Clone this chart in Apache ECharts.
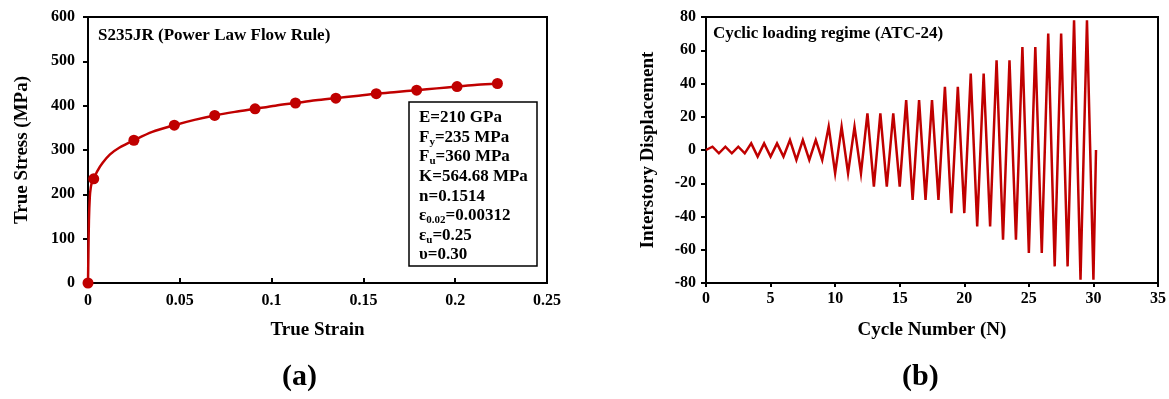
<!DOCTYPE html>
<html>
<head>
<meta charset="utf-8">
<script src="https://cdn.jsdelivr.net/npm/echarts@6/dist/echarts.min.js"></script>
<style>
html,body{margin:0;padding:0;background:#fff;}
#c{width:1169px;height:399px;}
</style>
</head>
<body>
<div id="c"></div>
<script>
// ---- Data (a): true stress-strain ----
const curveStrain = [0, 0.0002, 0.0005, 0.001, 0.0015, 0.002, 0.0025, 0.00312, 0.005, 0.008, 0.012, 0.017, 0.025, 0.035, 0.047, 0.058, 0.069, 0.08, 0.091, 0.102, 0.113, 0.124, 0.135, 0.146, 0.157, 0.168, 0.179, 0.19, 0.201, 0.212, 0.223];
const curveStress = [0, 60, 140, 195, 215, 225, 230, 235, 252, 271, 290, 305, 322, 341, 356, 368, 378, 386, 393, 400, 406, 412, 417, 422, 427, 431, 435, 439, 443, 447, 450];
const markStrain = [0, 0.00312, 0.025, 0.047, 0.069, 0.091, 0.113, 0.135, 0.157, 0.179, 0.201, 0.223];
const markStress = [0, 235, 322, 356, 378, 393, 406, 417, 427, 435, 443, 450];
const strainTicks = [0, 0.05, 0.1, 0.15, 0.2, 0.25];
const stressTicks = [0, 100, 200, 300, 400, 500, 600];

// ---- Data (b): cyclic loading regime ----
const cycleN = [0, 0.5, 1, 1.5, 2, 2.5, 3, 3.5, 4, 4.5, 5, 5.5, 6, 6.5, 7, 7.5, 8, 8.5, 9,
  9.5, 10, 10.5, 11, 11.5, 12, 12.5, 13, 13.5, 14, 14.5, 15, 15.5, 16, 16.5, 17, 17.5, 18,
  18.5, 19, 19.5, 20, 20.5, 21, 21.5, 22, 22.5, 23, 23.5, 24, 24.5, 25, 25.5, 26,
  26.5, 27, 27.5, 28, 28.5, 29, 29.5, 30, 30.2];
const displacement = [0, 2, -2, 2, -2, 2, -2, 4, -4, 4, -4, 4, -4, 6, -6, 6, -6, 6, -6,
  14, -14, 14, -14, 14, -14, 22, -22, 22, -22, 22, -22, 30, -30, 30, -30, 30, -30,
  38, -38, 38, -38, 46, -46, 46, -46, 54, -54, 54, -54, 62, -62, 62, -62,
  70, -70, 70, -70, 78, -78, 78, -78, 0];
const cycleTicks = [0, 5, 10, 15, 20, 25, 30, 35];
const dispTicks = [-80, -60, -40, -20, 0, 20, 40, 60, 80];

const propLines = [
  'E=210 GPa',
  'F{sub|y}=235 MPa',
  'F{sub|u}=360 MPa',
  'K=564.68 MPa',
  'n=0.1514',
  'ε{sub|0.02}=0.00312',
  'ε{sub|u}=0.25',
  'υ=0.30'
];

const RED = '#C00000';
const FONT = '"Liberation Serif", "Times New Roman", serif';

function zip(a, b) { return a.map((v, i) => [v, b[i]]); }

const chart = echarts.init(document.getElementById('c'), null, {renderer: 'canvas'});

const axisLabelStyle = {color: '#000', fontFamily: FONT, fontWeight: 'bold', fontSize: 16};
const nameStyle = {color: '#000', fontFamily: FONT, fontWeight: 'bold', fontSize: 19};
const lineStyle = {color: '#000', width: 2};

chart.setOption({
  animation: false,
  backgroundColor: '#fff',
  grid: [
    {left: 88, right: 622, top: 17, bottom: 116, show: true, borderColor: '#000', borderWidth: 2},
    {left: 706, right: 10, top: 17, bottom: 116, show: true, borderColor: '#000', borderWidth: 2}
  ],
  xAxis: [
    {gridIndex: 0, type: 'value', min: strainTicks[0], max: strainTicks[strainTicks.length - 1], interval: 0.05,
     name: 'True Strain', nameLocation: 'middle', nameGap: 38, nameTextStyle: nameStyle,
     axisLine: {lineStyle: lineStyle}, axisTick: {inside: true, length: 5, lineStyle: lineStyle},
     axisLabel: {...axisLabelStyle, margin: 10}, splitLine: {show: false}},
    {gridIndex: 1, type: 'value', min: cycleTicks[0], max: cycleTicks[cycleTicks.length - 1], interval: 5,
     name: 'Cycle Number (N)', nameLocation: 'middle', nameGap: 38, nameTextStyle: nameStyle,
     axisLine: {onZero: false, lineStyle: lineStyle}, axisTick: {length: 4, lineStyle: lineStyle},
     axisLabel: {...axisLabelStyle, margin: 8}, splitLine: {show: false}}
  ],
  yAxis: [
    {gridIndex: 0, type: 'value', min: stressTicks[0], max: stressTicks[stressTicks.length - 1], interval: 100,
     name: 'True Stress (MPa)', nameLocation: 'middle', nameGap: 56, nameTextStyle: nameStyle,
     axisLine: {lineStyle: lineStyle}, axisTick: {length: 5, lineStyle: lineStyle},
     axisLabel: {...axisLabelStyle, margin: 13}, splitLine: {show: false}},
    {gridIndex: 1, type: 'value', min: dispTicks[0], max: dispTicks[dispTicks.length - 1], interval: 20,
     name: 'Interstory Displacement', nameLocation: 'middle', nameGap: 48, nameTextStyle: nameStyle,
     axisLine: {onZero: false, lineStyle: lineStyle}, axisTick: {length: 5, lineStyle: lineStyle},
     axisLabel: {...axisLabelStyle, margin: 10}, splitLine: {show: false}}
  ],
  series: [
    {type: 'line', xAxisIndex: 0, yAxisIndex: 0, data: zip(curveStrain, curveStress), smooth: 0.3,
     showSymbol: false, lineStyle: {color: RED, width: 2.5}, itemStyle: {color: RED}, z: 2},
    {type: 'scatter', xAxisIndex: 0, yAxisIndex: 0, data: zip(markStrain, markStress),
     symbol: 'circle', symbolSize: 11, itemStyle: {color: RED, opacity: 1}, z: 3},
    {type: 'line', xAxisIndex: 1, yAxisIndex: 1, data: zip(cycleN, displacement),
     showSymbol: false, lineStyle: {color: RED, width: 2.5, join: 'miter'}, itemStyle: {color: RED}}
  ],
  graphic: [
    {type: 'text', left: 98, top: 27, style: {text: 'S235JR (Power Law Flow Rule)', fill: '#000', font: 'bold 17px ' + FONT}},
    {type: 'text', left: 713, top: 25, style: {text: 'Cyclic loading regime (ATC-24)', fill: '#000', font: 'bold 17px ' + FONT}},
    {type: 'rect', shape: {x: 409, y: 102, width: 128, height: 164}, style: {fill: '#fff', stroke: '#000', lineWidth: 1.5}, z: 10},
    {type: 'text', x: 419, y: 108, z: 11, style: {
      text: propLines.join('\n'), fill: '#000', font: 'bold 17px ' + FONT, lineHeight: 19.6,
      rich: {sub: {fontSize: 11, fontWeight: 'bold', fontFamily: FONT, padding: [9, 0, 0, 0], lineHeight: 19.6}}
    }},
    {type: 'text', top: 362, left: 282, style: {text: '(a)', fill: '#000', font: 'bold 30px ' + FONT}},
    {type: 'text', top: 362, left: 902, style: {text: '(b)', fill: '#000', font: 'bold 30px ' + FONT}}
  ]
});
</script>
</body>
</html>
